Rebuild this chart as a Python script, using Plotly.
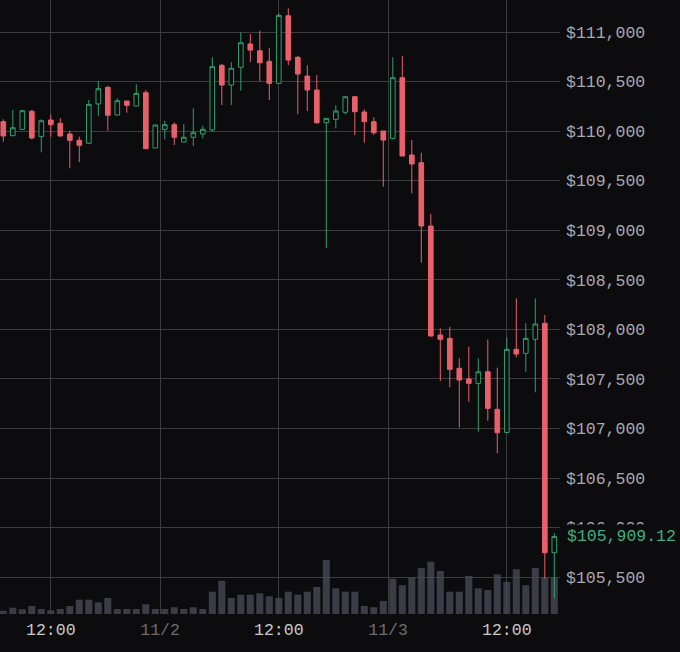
import pandas as pd
import plotly.graph_objects as go

# hourly BTC candles, 1 Nov 07:00 -> 3 Nov 17:00
times = pd.date_range("2025-11-01 07:00", periods=59, freq="h")

opens = [110095, 109954, 110018, 110200, 109944, 110112, 110079, 109971, 109907, 109877,
         110274, 110442, 110163, 110304, 110253, 110388, 109830, 110018, 110065, 109890,
         109938, 109971, 110011, 110664, 110465, 110644, 110879, 110811, 110704, 110482,
         111164, 110745, 110556, 110415, 110085, 110119, 110190, 110347, 110193, 110095,
         110001, 109927, 110539, 109759, 109681, 109043, 107943, 107909, 107607, 107499,
         107455, 107572, 107193, 106960, 107798, 107758, 107899, 108061, 105746]
highs = [110119, 110213, 110215, 110215, 110119, 110166, 110132, 110004, 109944, 110314,
         110506, 110455, 110331, 110304, 110472, 110415, 110062, 110105, 110089, 110072,
         110230, 110052, 110745, 110677, 110697, 110997, 110980, 111013, 110836, 111189,
         111239, 110758, 110664, 110566, 110129, 110260, 110347, 110347, 110220, 110139,
         110001, 110745, 110758, 109910, 109782, 109164, 108010, 108026, 107708, 107825,
         107708, 107899, 107613, 107920, 108313, 108061, 108313, 108145, 105942]
lows = [109893, 109948, 110010, 109917, 109786, 109944, 109944, 109625, 109688, 109870,
        110152, 110004, 110160, 110186, 110253, 109823, 109830, 109917, 109860, 109890,
        109850, 109927, 109994, 110263, 110263, 110408, 110697, 110503, 110314, 110475,
        110667, 110170, 110203, 110072, 108818, 110028, 110170, 109961, 109883, 109961,
        109439, 109917, 109749, 109372, 108672, 107926, 107479, 107415, 107011, 107270,
        106967, 107078, 106749, 106960, 107718, 107572, 107365, 105488, 105286]
closes = [109951, 110034, 110206, 109930, 110105, 110065, 109951, 109907, 109857, 110270,
          110428, 110160, 110307, 110260, 110381, 109823, 110062, 110065, 109938, 109938,
          109984, 110018, 110650, 110465, 110634, 110892, 110818, 110690, 110482, 111168,
          110717, 110576, 110415, 110085, 110129, 110203, 110347, 110196, 110095, 109984,
          109910, 110539, 109749, 109668, 109043, 107933, 107899, 107597, 107489, 107455,
          107572, 107203, 106957, 107798, 107751, 107909, 108054, 105746, 105909.12]
volumes = [82, 158, 118, 200, 125, 92, 125, 200, 358, 358,
           292, 400, 125, 125, 125, 242, 125, 125, 168, 125,
           168, 125, 558, 832, 400, 482, 482, 518, 442, 400,
           558, 482, 558, 675, 1350, 642, 558, 558, 200, 168,
           325, 882, 718, 918, 1150, 1308, 1075, 558, 558, 950,
           642, 600, 992, 800, 1118, 718, 1150, 918, 918]

x_ticks = ["2025-11-01 12:00", "2025-11-01 23:30", "2025-11-02 12:00",
           "2025-11-02 23:30", "2025-11-03 12:00"]
x_labels = ["12:00", "11/2", "12:00", "11/3", "12:00"]

BG = "#0c0c0e"
GRID = "#3c3c3f"
UP = "#2f9e6e"
DOWN = "#e8606a"
FONT = "Liberation Mono"

ticktext = []
for lab in x_labels:
    if "/" in lab:
        ticktext.append(f"<span style='color:#6c6c70'>{lab}</span>")
    else:
        ticktext.append(lab)

fig = go.Figure()
fig.add_trace(go.Bar(x=times, y=volumes, yaxis="y",
                     marker=dict(color="rgba(72,72,86,0.8)", line=dict(width=0)),
                     width=0.74 * 3600 * 1000, hoverinfo="skip"))
fig.add_trace(go.Candlestick(x=times, open=opens, high=highs, low=lows, close=closes,
                             yaxis="y2",
                             increasing=dict(line=dict(color=UP, width=1), fillcolor=BG),
                             decreasing=dict(line=dict(color=DOWN, width=1), fillcolor=DOWN),
                             whiskerwidth=0))

# last price tag on the axis, it hides part of the $106,000 label like the original
fig.add_annotation(x=1, xref="paper", xanchor="left", xshift=4,
                   y=closes[-1], yref="y2", yanchor="middle",
                   text=f"${closes[-1]:,.2f}", showarrow=False,
                   font=dict(family=FONT, size=16.5, color="#3fae80"),
                   bgcolor=BG, borderpad=2)

fig.update_layout(
    width=680, height=652,
    margin=dict(l=0, r=120, t=0, b=38),
    paper_bgcolor=BG, plot_bgcolor=BG,
    showlegend=False,
    font=dict(family=FONT, size=16.5, color="#a9a9ae"),
    xaxis=dict(type="date", range=["2025-11-01 06:39:10", "2025-11-03 17:36"],
               rangeslider=dict(visible=False),
               tickvals=x_ticks, ticktext=ticktext,
               tickfont=dict(color="#c9c9c9"),
               showgrid=True, gridcolor=GRID, gridwidth=1,
               zeroline=False, showline=False, ticks="", ticklabelstandoff=3),
    yaxis=dict(range=[0, 15350], visible=False, showgrid=False, fixedrange=True),
    yaxis2=dict(overlaying="y", side="right", range=[105128, 111323],
                tick0=105500, dtick=500, tickprefix="$", tickformat=",d",
                showgrid=True, gridcolor=GRID, gridwidth=1,
                zeroline=False, showline=False, ticks="", ticklabelstandoff=5),
)

fig.write_html("out.html", config={"displayModeBar": False},
               post_script="document.body.style.margin='0';"
                           "document.body.style.background='#0c0c0e';"
                           "document.body.style.overflow='hidden';")
